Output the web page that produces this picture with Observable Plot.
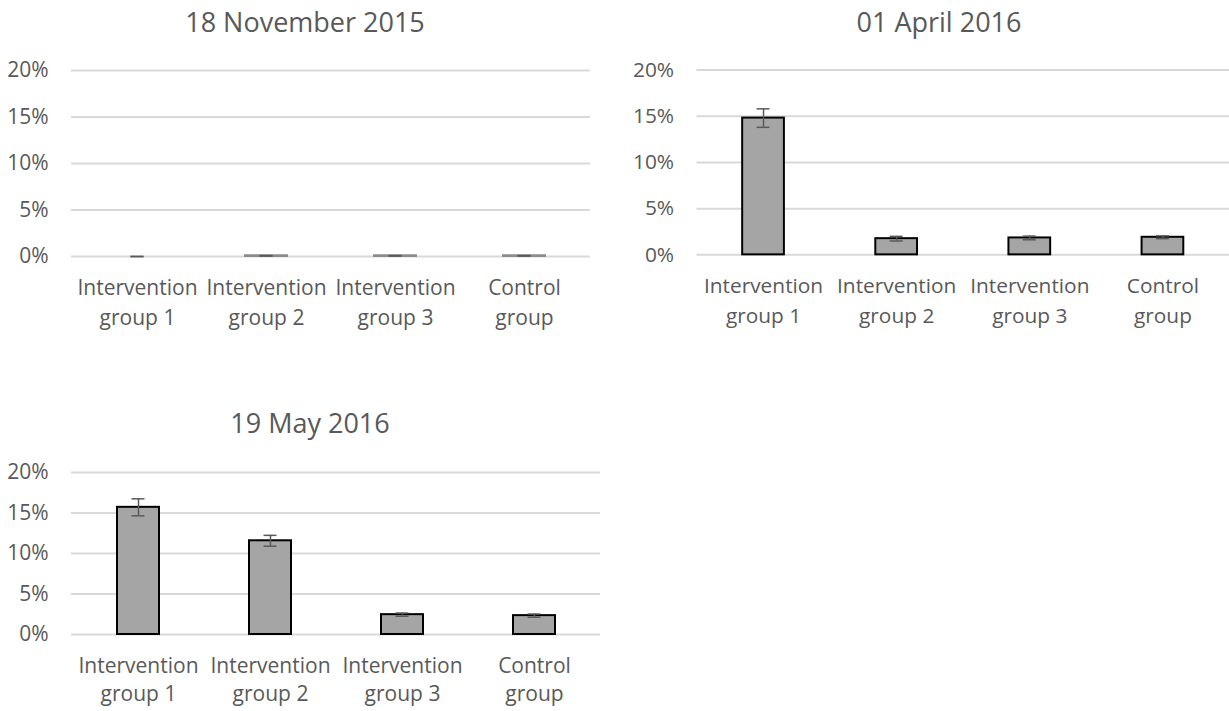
<!DOCTYPE html>
<html>
<head>
<meta charset="utf-8">
<script src="https://cdn.jsdelivr.net/npm/d3@7"></script>
<script src="https://cdn.jsdelivr.net/npm/@observablehq/plot@0.6"></script>
<style>
html, body { margin: 0; padding: 0; background: #ffffff; overflow: hidden; width: 1229px; height: 711px; }
.panel { position: absolute; }
.title { position: absolute; font-family: "Open Sans", sans-serif; font-size: 27px; color: #595959; line-height: 1.3; white-space: nowrap; transform: translateX(-50%); }
</style>
</head>
<body>
<script>
// ---- data ----
const categories = ["Intervention group 1", "Intervention group 2", "Intervention group 3", "Control group"];
const tickLabels = ["Intervention\ngroup 1", "Intervention\ngroup 2", "Intervention\ngroup 3", "Control\ngroup"];
const titles = ["18 November 2015", "01 April 2016", "19 May 2016"];
const yTicks = [0, 0.05, 0.10, 0.15, 0.20];

const nov2015 = [0, 0.0008, 0.0008, 0.0008];
const nov2015Err = [0, 0.0002, 0.0002, 0.0002];
const apr2016 = [0.148, 0.0175, 0.0183, 0.019];
const apr2016Err = [0.010, 0.0025, 0.002, 0.0015];
const may2016 = [0.157, 0.1157, 0.0245, 0.0233];
const may2016Err = [0.0105, 0.0067, 0.002, 0.002];

// ---- drawing ----
const textColor = "#595959";
const font = "Open Sans";

function makePanel(values, errors, title, pos) {
  const data = categories.map((c, i) => ({cat: c, value: values[i], err: errors[i]}));
  const chart = Plot.plot({
    width: pos.width,
    height: pos.height,
    marginLeft: pos.ml,
    marginRight: pos.mr,
    marginTop: pos.mt,
    marginBottom: pos.mb,
    style: {fontFamily: font, fontSize: "21px", color: textColor, background: "transparent", overflow: "visible"},
    x: {domain: categories, paddingInner: pos.pad, paddingOuter: pos.pad / 2, label: null},
    y: {domain: [0, 0.2], label: null},
    marks: [
      Plot.gridY(yTicks, {stroke: "#d9d9d9", strokeOpacity: 1, strokeWidth: 2}),
      Plot.axisY(yTicks, {tickFormat: d3.format(".0%"), tickSize: 0, tickPadding: 23, fontSize: 21, fill: textColor, label: null}),
      Plot.axisX({tickSize: 0, tickPadding: pos.tp, tickFormat: d => tickLabels[categories.indexOf(d)], lineHeight: pos.lh, fontSize: 21, fill: textColor, label: null}),
      Plot.barY(data.filter(d => d.value > 0), {x: "cat", y: "value", fill: "#a5a5a5", stroke: pos.barStroke, strokeWidth: 2}),
      Plot.ruleX(data, {x: "cat", y1: d => d.value - d.err, y2: d => d.value + d.err, stroke: textColor, strokeWidth: 1.5}),
      Plot.tickY(data, {x: "cat", y: d => d.value - d.err, stroke: textColor, strokeWidth: 1.5, insetLeft: 14.5, insetRight: 14.5}),
      Plot.tickY(data, {x: "cat", y: d => d.value + d.err, stroke: textColor, strokeWidth: 1.5, insetLeft: 14.5, insetRight: 14.5})
    ]
  });
  const wrap = document.createElement("div");
  wrap.className = "panel";
  wrap.style.left = pos.left + "px";
  wrap.style.top = pos.top + "px";
  wrap.appendChild(chart);
  document.body.appendChild(wrap);

  const t = document.createElement("div");
  t.className = "title";
  t.textContent = title;
  t.style.left = pos.titleX + "px";
  t.style.top = pos.titleY + "px";
  document.body.appendChild(t);
}

makePanel(nov2015, nov2015Err, titles[0], {left: 0, top: 0, width: 610, height: 345, ml: 71, mr: 20, mt: 70, mb: 89, tp: 17, lh: 1.43, pad: 0.677, barStroke: "#8c8c8c", titleX: 305, titleY: 4});
makePanel(apr2016, apr2016Err, titles[1], {left: 615, top: 0, width: 618, height: 345, ml: 82, mr: 0, mt: 70, mb: 89, tp: 17, lh: 1.43, pad: 0.685, barStroke: "#000000", titleX: 939, titleY: 4});
makePanel(may2016, may2016Err, titles[2], {left: 0, top: 400, width: 610, height: 311, ml: 71, mr: 10, mt: 72, mb: 77, tp: 18, lh: 1.36, pad: 0.682, barStroke: "#000000", titleX: 310, titleY: 405});
</script>
</body>
</html>
